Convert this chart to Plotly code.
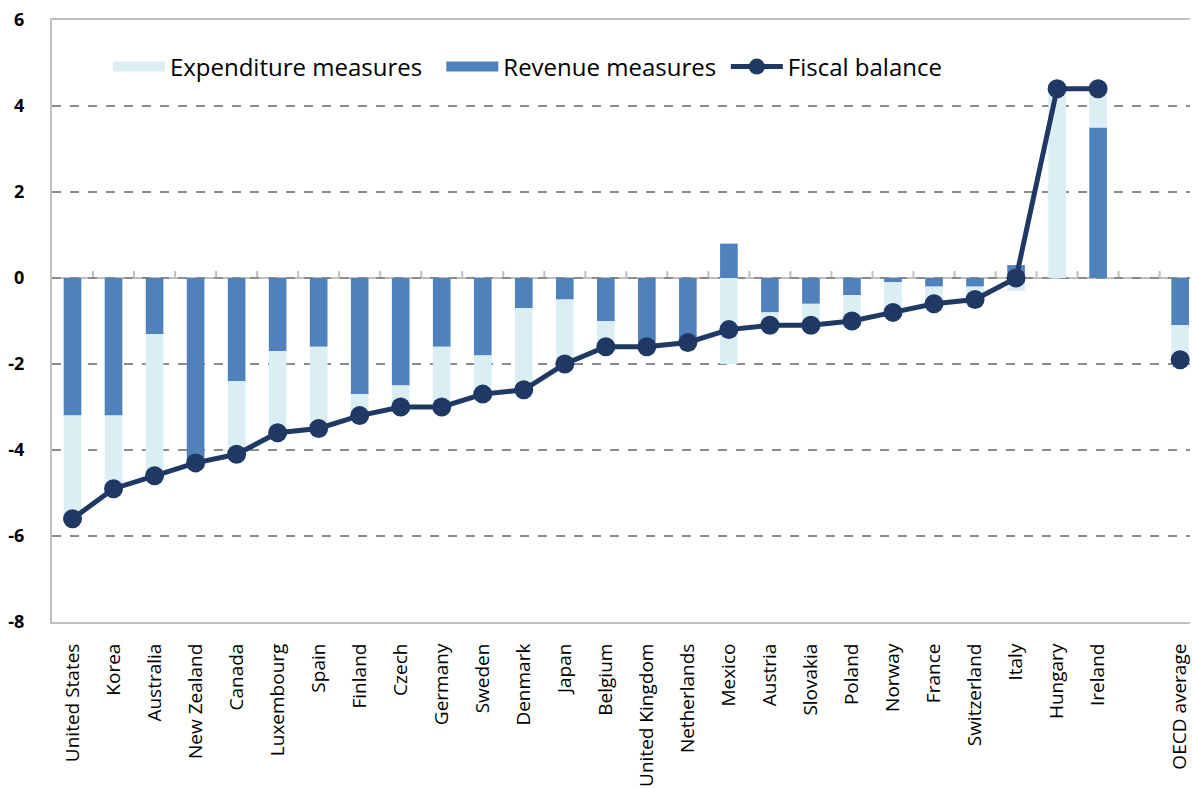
import plotly.graph_objects as go

countries = ["United States", "Korea", "Australia", "New Zealand", "Canada",
             "Luxembourg", "Spain", "Finland", "Czech", "Germany", "Sweden",
             "Denmark", "Japan", "Belgium", "United Kingdom", "Netherlands",
             "Mexico", "Austria", "Slovakia", "Poland", "Norway", "France",
             "Switzerland", "Italy", "Hungary", "Ireland", "OECD average"]
revenue = [-3.2, -3.2, -1.3, -4.3, -2.4, -1.7, -1.6, -2.7, -2.5, -1.6, -1.8,
           -0.7, -0.5, -1.0, -1.5, -1.4, 0.8, -0.8, -0.6, -0.4, -0.1, -0.2,
           -0.2, 0.3, 0.0, 3.5, -1.1]
expenditure = [-2.4, -1.7, -3.3, 0.0, -1.7, -1.9, -1.9, -0.5, -0.5, -1.4, -0.9,
               -1.9, -1.5, -0.6, -0.1, -0.1, -2.0, -0.3, -0.5, -0.6, -0.7, -0.4,
               -0.3, -0.3, 4.4, 0.9, -0.8]
balance = [-5.6, -4.9, -4.6, -4.3, -4.1, -3.6, -3.5, -3.2, -3.0, -3.0, -2.7,
           -2.6, -2.0, -1.6, -1.6, -1.5, -1.2, -1.1, -1.1, -1.0, -0.8, -0.6,
           -0.5, 0.0, 4.4, 4.4, -1.9]
y_ticks = [-8, -6, -4, -2, 0, 2, 4, 6]

# countries sit on consecutive slots; the OECD average is set apart by one empty slot
pos = list(range(len(countries) - 1)) + [len(countries)]
n_c = len(countries) - 1

C_EXP = "#DBEEF4"
C_REV = "#4F81BD"
C_BAL = "#1F3864"
C_AXIS = "#BFBFBF"
FONT = "Open Sans"

fig = go.Figure()
fig.add_trace(go.Bar(x=pos, y=revenue, marker=dict(color=C_REV, line=dict(width=0)),
                     width=0.43, name="Revenue measures", showlegend=False))
fig.add_trace(go.Bar(x=pos, y=expenditure, marker=dict(color=C_EXP, line=dict(width=0)),
                     width=0.43, name="Expenditure measures", showlegend=False))
fig.add_trace(go.Scatter(x=pos[:n_c], y=balance[:n_c], mode="lines+markers",
                         line=dict(color=C_BAL, width=5),
                         marker=dict(color=C_BAL, size=19),
                         name="Fiscal balance", showlegend=False))
fig.add_trace(go.Scatter(x=pos[n_c:], y=balance[n_c:], mode="markers",
                         marker=dict(color=C_BAL, size=19), showlegend=False))

# legend entries drawn as wide swatches
fig.add_trace(go.Scatter(x=[None], y=[None], mode="lines", name="Expenditure measures",
                         line=dict(color=C_EXP, width=16), legend="legend"))
fig.add_trace(go.Scatter(x=[None], y=[None], mode="lines", name="Revenue measures",
                         line=dict(color=C_REV, width=16), legend="legend2"))
fig.add_trace(go.Scatter(x=[None], y=[None], mode="lines+markers", name="Fiscal balance",
                         line=dict(color=C_BAL, width=5),
                         marker=dict(color=C_BAL, size=17), legend="legend3"))

# category axis running along the zero line, with short ticks between slots
fig.add_hline(y=0, line=dict(color=C_AXIS, width=2), layer="below")
for p in range(n_c + 1):
    fig.add_shape(type="line", xref="x", yref="y", x0=p + 0.5, x1=p + 0.5,
                  ysizemode="pixel", yanchor=0, y0=0, y1=7,
                  line=dict(color=C_AXIS, width=2), layer="below")

x_range = [-0.5, 27.24]
legend_common = dict(orientation="h", yanchor="middle", y=0.922, xanchor="left",
                     font=dict(family=FONT, size=24, color="#000"),
                     bgcolor="rgba(0,0,0,0)", itemwidth=52)

fig.update_layout(
    width=1192, height=789,
    margin=dict(l=52, r=0, t=20, b=167),
    paper_bgcolor="white", plot_bgcolor="white",
    barmode="relative", bargap=0.57,
    font=dict(family=FONT, color="#000"),
    legend=dict(x=(108 - 52) / 1140, **legend_common),
    legend2=dict(x=(442 - 52) / 1140, **legend_common),
    legend3=dict(x=(727 - 52) / 1140, **legend_common),
    xaxis=dict(range=x_range, tickmode="array", tickvals=pos, ticktext=countries,
               tickangle=-90, tickfont=dict(family=FONT, size=19, color="#000"),
               showline=True, linecolor=C_AXIS, linewidth=2, mirror=True,
               showgrid=False, zeroline=False, ticks="", ticklabelstandoff=12,
               ticklabeloverflow="allow"),
    yaxis=dict(range=[y_ticks[0], y_ticks[-1]], tickmode="array", tickvals=y_ticks,
               ticktext=[str(v) for v in y_ticks],
               tickfont=dict(family=FONT, size=18, color="#000", weight="bold"),
               showline=True, linecolor=C_AXIS, linewidth=2,
               showgrid=True, gridcolor="#8C8C8C", gridwidth=1.5, griddash="dash",
               zeroline=False, ticks="", ticklabelstandoff=22),
)

fig.write_html("out.html")
